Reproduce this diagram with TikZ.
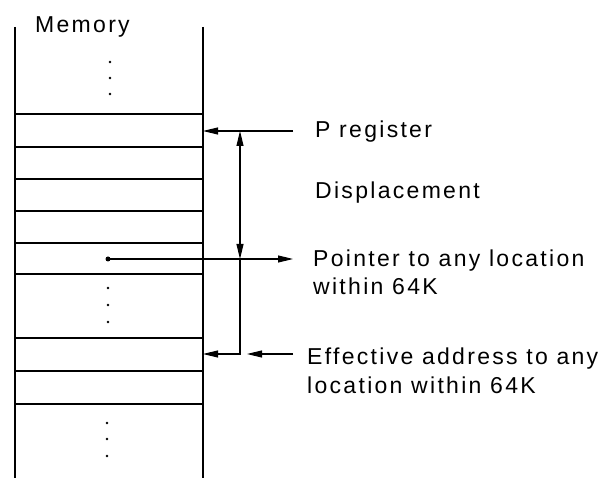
\documentclass[tikz,border=0pt]{standalone}
\usepackage{fontspec}
\setmainfont{Liberation Sans}[LetterSpace=10]
\usetikzlibrary{arrows.meta}
\begin{document}
\begin{tikzpicture}[x=1pt,y=-1pt,
  wall/.style={line width=1.4pt},
  row/.style={line width=1.2pt},
  conn/.style={line width=1.1pt},
  tip/.style={-{Triangle[length=15pt,width=7pt]}},
  lbl/.style={inner sep=0pt,anchor=base west,align=left,font=\fontsize{23}{28.5}\selectfont},
  dotm/.style={circle,fill,inner sep=0pt,minimum size=2.6pt},
]
\useasboundingbox (0,0) rectangle (616,478);
% memory column
\draw[wall] (15,27) -- (15,478);
\draw[wall] (203,27) -- (203,478);
\foreach \y in {114,147,179,211,243,274,338,371,404}
  \draw[row] (15,\y) -- (203,\y);
\node[lbl] (mem) at (35,33) {Memory};
% ellipsis dots
\foreach \y in {62,78,94} \node[dotm] at (110,\y) {};
\foreach \y in {288,305,322} \node[dotm] at (108,\y) {};
\foreach \y in {423,439,456} \node[dotm] at (107,\y) {};
% labels
\node[lbl] (preg) at (315,138) {P register};
\node[lbl] (disp) at (315,199) {Displacement};
\node[lbl] (ptr) at (313,295) {Pointer to any location\\within 64K};
\node[lbl] (eff) at (307,393) {Effective address to any\\location within 64K};
% coordinates
\coordinate (pin) at (203,131);
\coordinate (pout) at (293,131);
\coordinate (dtop) at (240,131);
\coordinate (dbot) at (240,259);
\coordinate (dend) at (240,354);
\coordinate (ein) at (203,354);
\coordinate (estart) at (293,354);
\coordinate (etip) at (247,354);
\node[circle,fill,inner sep=0pt,minimum size=5pt] (pdot) at (108,259) {};
\coordinate (ptip) at (293,259);
% connectors
\draw[conn,tip] (pout) -- (pin);
\draw[conn,{Triangle[length=15pt,width=7pt]}-{Triangle[length=15pt,width=7pt]}] (dtop) -- (dbot);
\draw[conn,tip] (dbot) -- (dend) -- (ein);
\draw[conn,tip] (estart) -- (etip);
\draw[conn,tip] (pdot.center) -- (ptip);
\end{tikzpicture}
\end{document}
